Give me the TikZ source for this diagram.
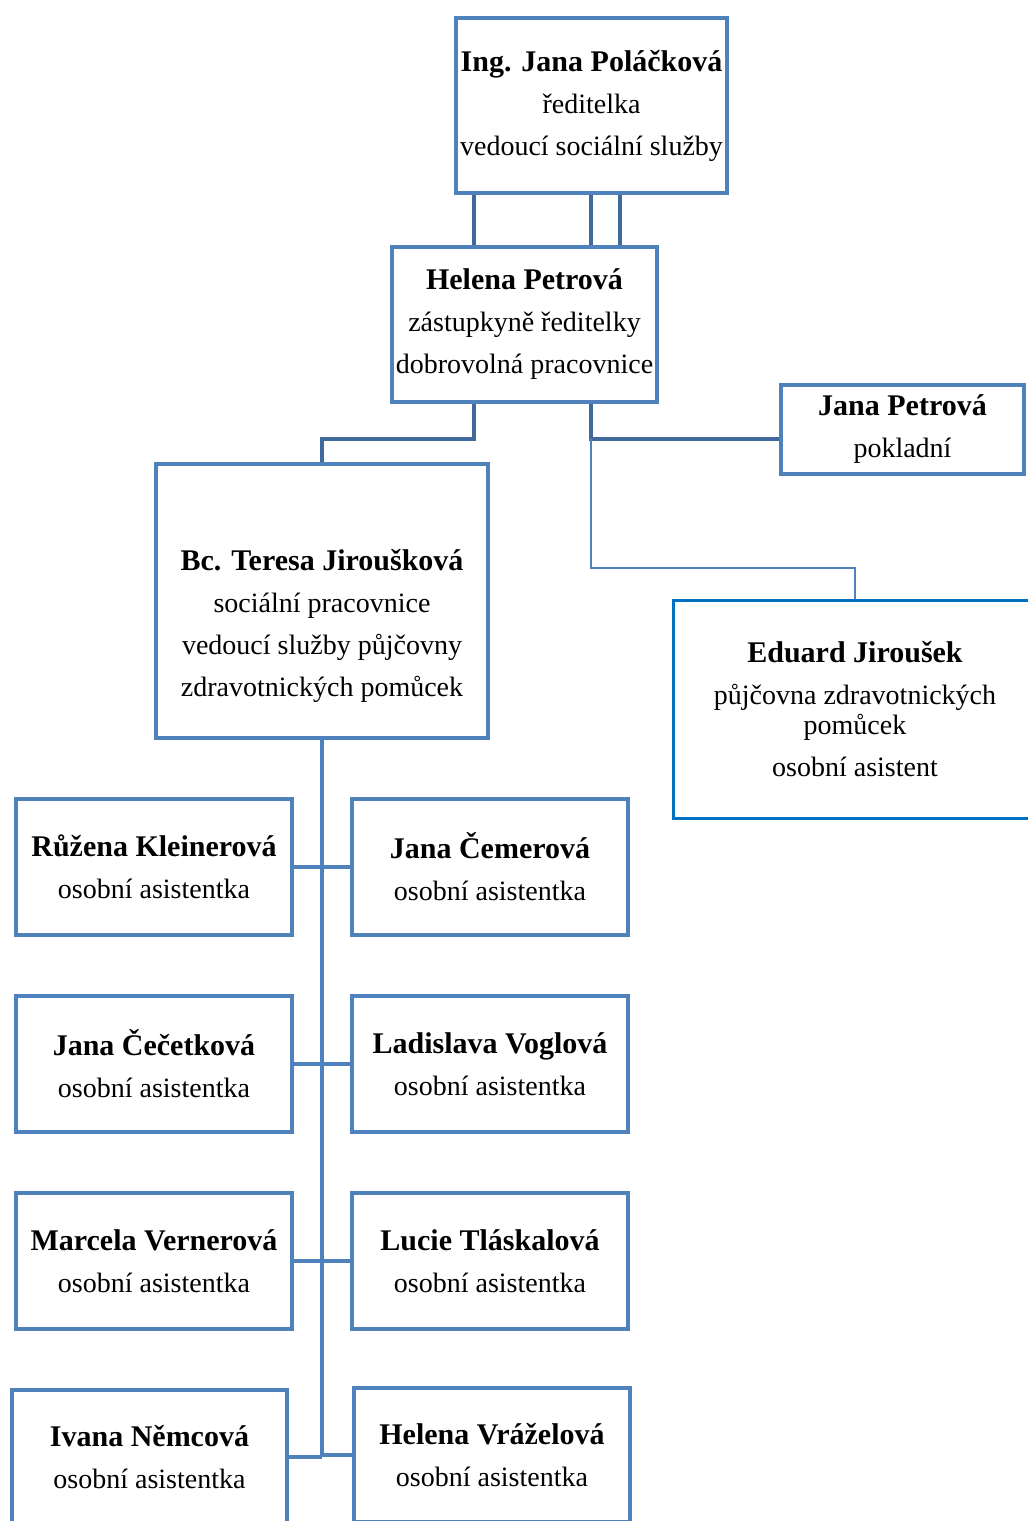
\documentclass[tikz,border=0pt]{standalone}
\usepackage{fontspec}
\setmainfont{Liberation Serif}
\usetikzlibrary{positioning}
\definecolor{boxblue}{RGB}{79,129,189}
\definecolor{linkblue}{RGB}{64,106,158}
\definecolor{brightblue}{RGB}{0,112,192}
\newcommand{\nm}[1]{{\fontsize{15}{21}\selectfont\bfseries #1}}
\tikzset{person node/.style={rectangle,draw=boxblue,line width=2pt,fill=white,align=center,inner sep=1pt,font=\fontsize{14}{21}\selectfont},
asist node/.style={person node,minimum width=138pt,minimum height=68pt},
link/.style={draw=linkblue,line width=2pt},
trunk/.style={draw=boxblue,line width=2pt},
thin link/.style={draw=boxblue,line width=1pt}
}

\begin{document}
\begin{tikzpicture}[x=0.5pt,y=-0.5pt]
		\useasboundingbox (0,0) rectangle (1028,1521);
		\clip (0,0) rectangle (1028,1521);
		\node[person node,minimum width=135.5pt,minimum height=87.5pt] (A) at (591.5,105.5) {\nm{Ing. Jana Poláčková}\\ředitelka\\vedoucí sociální služby};
		\node[person node,minimum width=132.5pt,minimum height=77.5pt] (B) at (524.5,324.5) {\nm{Helena Petrová}\\zástupkyně ředitelky\\dobrovolná pracovnice};
		\node[person node,minimum width=121.5pt,minimum height=44.5pt] (JP) at (902.5,429.5) {\nm{Jana Petrová}\\pokladní};
		\node[person node,minimum width=166pt,minimum height=137pt] (T) at (322,601) {\mbox{}\\[15pt]\nm{Bc. Teresa Jiroušková}\\sociální pracovnice\\vedoucí služby půjčovny\\zdravotnických pomůcek};
		\node[person node,draw=brightblue,line width=1.5pt,minimum width=182pt,minimum height=109pt] (E) at (855,709) {\nm{Eduard Jiroušek}\\půjčovna zdravotnických\\[-6pt]pomůcek\\osobní asistent};
		
		\node[asist node] (L1) at (154,867) {\nm{Růžena Kleinerová}\\osobní asistentka};
		\node[asist node] (R1) at (490,867) {\nm{Jana Čemerová}\\osobní asistentka};
		\node[asist node] (L2) at (154,1064) {\nm{Jana Čečetková}\\osobní asistentka};
		\node[asist node] (R2) at (490,1064) {\nm{Ladislava Voglová}\\osobní asistentka};
		\node[asist node] (L3) at (154,1261) {\nm{Marcela Vernerová}\\osobní asistentka};
		\node[asist node] (R3) at (490,1261) {\nm{Lucie Tláskalová}\\osobní asistentka};
		\node[asist node,minimum width=137.5pt,minimum height=67pt] (L4) at (149.5,1457) {\nm{Ivana Němcová}\\osobní asistentka};
		\node[asist node,minimum height=67pt] (R4) at (492,1455) {\nm{Helena Vráželová}\\osobní asistentka};
		
		\coordinate (ka) at (474,439);
		\coordinate (kb) at (591,439);
		\coordinate (kc) at (591,568);
		\coordinate (kd) at (620,0);
		
		\draw[link] (A.south -| ka) -- (B.north -| ka);
		\draw[link] (A.south -| kb) -- (B.north -| kb);
		\draw[link] (A.south -| kd) -- (B.north -| kd);
		\draw[link] (B.south -| ka) -- (ka) -| (T.north);
		\draw[link] (B.south -| kb) -- (kb) -- (kb -| JP.west);
		\draw[thin link] (kb) -- (kc) -| (E.north);
		
		\draw[trunk] (T.south) -- (T.south |- L4.east);
		\foreach \n in {L1,L2,L3,L4}
			\draw[trunk] (\n.east) -- (\n.east -| T.south);
		\foreach \n in {R1,R2,R3,R4}
			\draw[trunk] (\n.west) -- (\n.west -| T.south);
		
	\end{tikzpicture}
\end{document}
